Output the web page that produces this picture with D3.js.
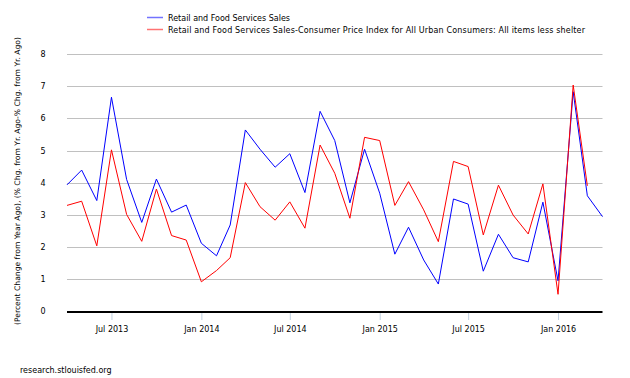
<!DOCTYPE html>
<html>
<head>
<meta charset="utf-8">
<script src="https://cdn.jsdelivr.net/npm/d3@7"></script>
<style>
  body { margin: 0; background: #fff; }
  text { font-family: "DejaVu Sans", sans-serif; fill: #000; }
</style>
</head>
<body>
<svg id="chart" width="630" height="378"></svg>
<script>
const months = [
  "2013-04", "2013-05", "2013-06", "2013-07", "2013-08", "2013-09", "2013-10", "2013-11", "2013-12",
  "2014-01", "2014-02", "2014-03", "2014-04", "2014-05", "2014-06", "2014-07", "2014-08", "2014-09",
  "2014-10", "2014-11", "2014-12", "2015-01", "2015-02", "2015-03", "2015-04", "2015-05", "2015-06",
  "2015-07", "2015-08", "2015-09", "2015-10", "2015-11", "2015-12", "2016-01", "2016-02", "2016-03",
  "2016-04"
];

// Retail and Food Services Sales, % chg from yr ago
const salesValues = [
  3.93, 4.39, 3.44, 6.66, 4.10, 2.76, 4.11, 3.08, 3.30,
  2.11, 1.72, 2.68, 5.64, 5.04, 4.48, 4.90, 3.69, 6.22,
  5.31, 3.37, 5.04, 3.67, 1.77, 2.61, 1.59, 0.84, 3.49,
  3.33, 1.24, 2.39, 1.66, 1.53, 3.39, 0.94, 6.83, 3.59,
  2.94
];

// Sales minus CPI less shelter
const realValues = [
  3.29, 3.42, 2.03, 5.02, 3.01, 2.17, 3.80, 2.35, 2.21,
  0.91, 1.26, 1.66, 4.00, 3.25, 2.83, 3.40, 2.58, 5.17,
  4.29, 2.89, 5.41, 5.31, 3.29, 4.03, 3.15, 2.16, 4.66,
  4.50, 2.37, 3.92, 2.99, 2.40, 3.96, 0.52, 7.04, 3.90
];

const yTicks = [0, 1, 2, 3, 4, 5, 6, 7, 8];
const xTickDates = ["2013-07", "2014-01", "2014-07", "2015-01", "2015-07", "2016-01"];

const seriesNames = [
  "Retail and Food Services Sales",
  "Retail and Food Services Sales-Consumer Price Index for All Urban Consumers: All items less shelter"
];
const seriesColors = ["#0000ff", "#ff0000"];
const legendWidths = [122, 417];
const yTitle = "(Percent Change from Year Ago), (% Chg. from Yr. Ago-% Chg. from Yr. Ago)";

const parseMonth = d3.timeParse("%Y-%m");
const svg = d3.select("#chart");

const plot = { left: 67, right: 602.5, top: 54.2, bottom: 311 };

const x = d3.scaleTime()
  .domain([parseMonth(months[0]), parseMonth(months[months.length - 1])])
  .range([plot.left, plot.right]);

const y = d3.scaleLinear()
  .domain([0, 8])
  .range([plot.bottom, plot.top]);

// grid
svg.append("g")
  .selectAll("line")
  .data(yTicks.filter((t) => t > 0))
  .enter()
  .append("line")
  .attr("x1", plot.left)
  .attr("x2", plot.right)
  .attr("y1", (d) => Math.round(y(d)) + 0.5)
  .attr("y2", (d) => Math.round(y(d)) + 0.5)
  .attr("stroke", "#c0c0c0")
  .attr("stroke-width", 1);

// y tick labels
svg.append("g")
  .selectAll("text")
  .data(yTicks)
  .enter()
  .append("text")
  .attr("x", 43)
  .attr("y", (d) => y(d) + 3)
  .attr("text-anchor", "middle")
  .attr("font-size", 8)
  .text((d) => d);

// x ticks
const xAxis = d3.axisBottom(x)
  .tickValues(xTickDates.map(parseMonth))
  .tickFormat(d3.timeFormat("%b %Y"))
  .tickSize(8)
  .tickSizeOuter(0);

const xg = svg.append("g")
  .attr("transform", `translate(0,${plot.bottom + 1})`)
  .call(xAxis);
xg.select(".domain").remove();
xg.selectAll(".tick line").attr("stroke", "#c0d0e0");
xg.selectAll(".tick text")
  .attr("font-size", 8)
  .attr("font-family", "DejaVu Sans, sans-serif")
  .attr("dy", 0)
  .attr("y", 20);

// axis line
svg.append("line")
  .attr("x1", plot.left)
  .attr("x2", plot.right)
  .attr("y1", plot.bottom + 1)
  .attr("y2", plot.bottom + 1)
  .attr("stroke", "#000")
  .attr("stroke-width", 2);

// series
const line = d3.line()
  .x((d) => x(d.date))
  .y((d) => y(d.value));

[salesValues, realValues].forEach((vals, i) => {
  const pts = vals.map((v, j) => ({ date: parseMonth(months[j]), value: v }));
  svg.append("path")
    .datum(pts)
    .attr("fill", "none")
    .attr("stroke", seriesColors[i])
    .attr("stroke-width", 1)
    .attr("stroke-linejoin", "round")
    .attr("d", line);
});

// legend
const legend = svg.append("g");
seriesNames.forEach((name, i) => {
  const ly = 17.5 + i * 12;
  legend.append("line")
    .attr("x1", 147)
    .attr("x2", 163)
    .attr("y1", ly)
    .attr("y2", ly)
    .attr("stroke", seriesColors[i])
    .attr("stroke-opacity", 0.55)
    .attr("stroke-width", 1.5);
  legend.append("text")
    .attr("x", 168)
    .attr("y", ly + 3)
    .attr("font-size", 8)
    .attr("textLength", legendWidths[i])
    .attr("lengthAdjust", "spacing")
    .text(name);
});

// y title
svg.append("text")
  .attr("transform", "translate(20,181) rotate(-90)")
  .attr("text-anchor", "middle")
  .attr("font-size", 7.6)
  .attr("textLength", 288)
  .attr("lengthAdjust", "spacingAndGlyphs")
  .text(yTitle);

// source
svg.append("text")
  .attr("x", 20)
  .attr("y", 373)
  .attr("font-size", 8)
  .text("research.stlouisfed.org");
</script>
</body>
</html>
